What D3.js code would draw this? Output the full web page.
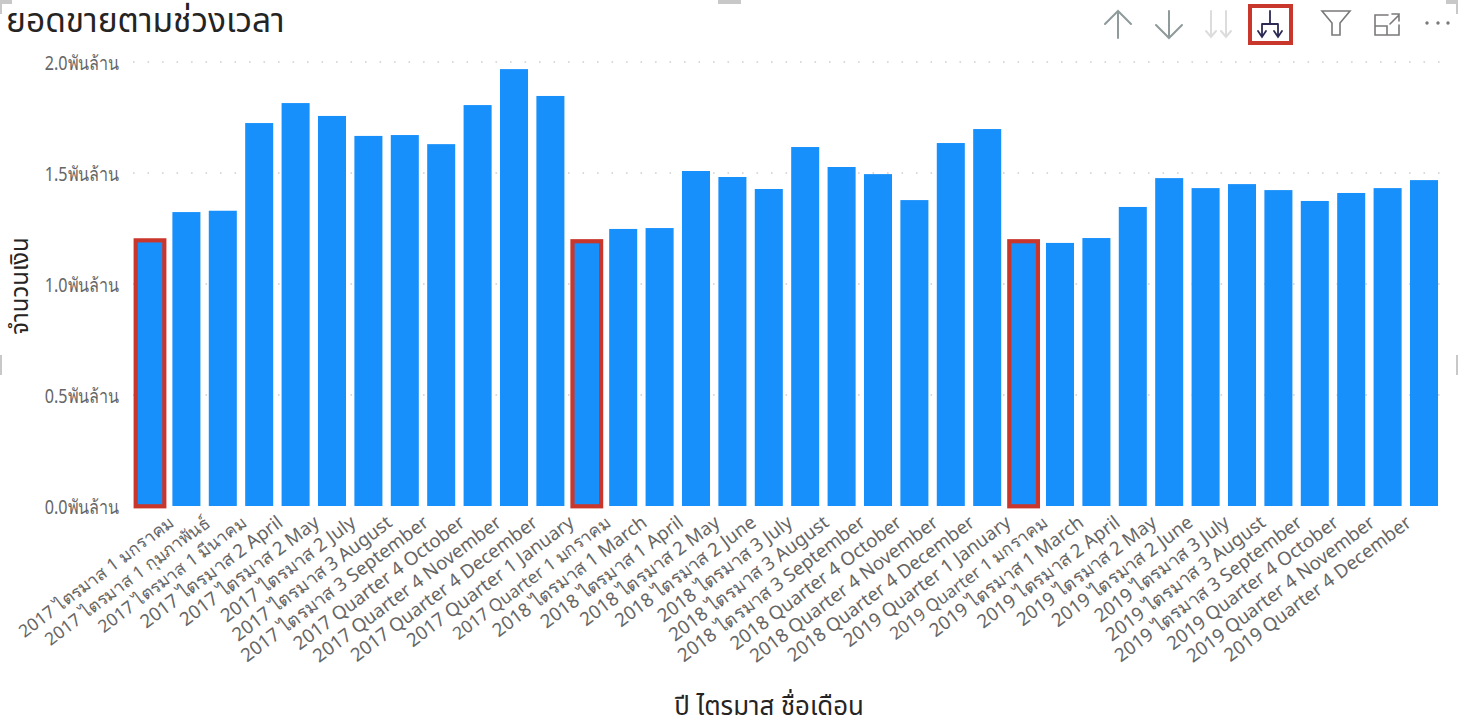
<!DOCTYPE html>
<html lang="th"><head><meta charset="UTF-8">
<title>ยอดขายตามช่วงเวลา</title>
<script src="https://d3js.org/d3.v7.min.js"></script>
<style>
html,body{margin:0;padding:0;background:#fff;overflow:hidden}
svg{display:block}
text{font-family:"Noto Sans","Noto Sans Thai","Liberation Sans",sans-serif}
</style>
</head>
<body>
<script>
// x labels, the last bar has no visible label in the picture
var categories = [
  "2017 ไตรมาส 1 มกราคม","2017 ไตรมาส 1 กุมภาพันธ์","2017 ไตรมาส 1 มีนาคม","2017 ไตรมาส 2 April",
  "2017 ไตรมาส 2 May","2017 ไตรมาส 2 July","2017 ไตรมาส 3 August","2017 ไตรมาส 3 September",
  "2017 Quarter 4 October","2017 Quarter 4 November","2017 Quarter 4 December","2017 Quarter 1 January",
  "2017 Quarter 1 มกราคม","2018 ไตรมาส 1 March","2018 ไตรมาส 1 April","2018 ไตรมาส 2 May",
  "2018 ไตรมาส 2 June","2018 ไตรมาส 3 July","2018 ไตรมาส 3 August","2018 ไตรมาส 3 September",
  "2018 Quarter 4 October","2018 Quarter 4 November","2018 Quarter 4 December","2019 Quarter 1 January",
  "2019 Quarter 1 มกราคม","2019 ไตรมาส 1 March","2019 ไตรมาส 2 April","2019 ไตรมาส 2 May",
  "2019 ไตรมาส 2 June","2019 ไตรมาส 3 July","2019 ไตรมาส 3 August","2019 ไตรมาส 3 September",
  "2019 Quarter 4 October","2019 Quarter 4 November","2019 Quarter 4 December",""
];
// พันล้าน
var values = [
  1.198,1.324,1.330,1.725,1.815,1.757,1.667,1.671,1.630,1.806,1.968,1.847,
  1.194,1.248,1.252,1.509,1.482,1.428,1.617,1.527,1.495,1.378,1.635,1.698,
  1.194,1.185,1.207,1.347,1.477,1.432,1.450,1.423,1.374,1.410,1.432,1.468
];
var highlighted = ["2017 ไตรมาส 1 มกราคม","2017 Quarter 1 มกราคม","2019 Quarter 1 มกราคม"];
var yTicks = [0,0.5,1.0,1.5,2.0];
var tickSuffix = "พันล้าน";
var chartTitle = "ยอดขายตามช่วงเวลา";
var yTitle = "จำนวนเงิน";
var xTitle = "ปี ไตรมาส ชื่อเดือน";

var w = 1458, h = 720;
var svg = d3.select("body").append("svg").attr("width", w).attr("height", h);

var x = d3.scaleBand().domain(categories).range([131.8,1442.2]).paddingInner(0.23).paddingOuter(0.115);
var y = d3.scaleLinear().domain([0,2]).range([506,62]);

// grid
svg.append("g").selectAll("line").data(yTicks.filter(function(d){return d>0;})).enter().append("line")
  .attr("x1",133).attr("x2",1450)
  .attr("y1",function(d){return y(d);}).attr("y2",function(d){return y(d);})
  .attr("stroke","#d0d0d0").attr("stroke-width",1.6).attr("stroke-dasharray","1.6 12.9");

// bars
svg.append("g").selectAll("rect").data(values).enter().append("rect")
  .attr("x",function(d,i){return x(categories[i]);})
  .attr("y",function(d){return y(d);})
  .attr("width",x.bandwidth())
  .attr("height",function(d){return y(0)-y(d);})
  .attr("fill","#1890fc");

// red outlines
svg.append("g").selectAll("rect").data(highlighted).enter().append("rect")
  .attr("x",function(c){return x(c)-0.3;})
  .attr("y",function(c){return y(values[categories.indexOf(c)])+0.3;})
  .attr("width",x.bandwidth()+0.6)
  .attr("height",function(c){return y(0)-y(values[categories.indexOf(c)]);})
  .attr("fill","none").attr("stroke","#c9372c").attr("stroke-width",4.2);

// y axis
var yAxis = d3.axisLeft(y).tickValues(yTicks).tickSize(0).tickPadding(0)
  .tickFormat(function(d){return d3.format(".1f")(d)+tickSuffix;});
var gy = svg.append("g").attr("transform","translate(119,1)").call(yAxis);
gy.select(".domain").remove();
gy.selectAll("text").attr("fill","#666").style("font-size","19.5px").style("font-family",'"Noto Sans",sans-serif')
  .attr("transform","scale(0.83,1)");

// x axis
var xAxis = d3.axisBottom(x).tickSize(0).tickPadding(0);
var gx = svg.append("g").attr("transform","translate(0,506)").call(xAxis);
gx.select(".domain").remove();
gx.selectAll("text")
  .attr("fill","#666").style("font-family",'"Noto Sans",sans-serif')
  // labels ending in a Thai month run shorter in the reference
  .style("font-size",function(d){return /[\u0E00-\u0E7F]$/.test(d) ? "17.4px" : "18.7px";})
  .attr("text-anchor","end").attr("dy",0).attr("y",0).attr("x",0)
  .attr("transform","translate(25,19) rotate(-37)");

// titles
svg.append("text").attr("x",6).attr("y",32).attr("fill","#252423").style("font-size","33.5px").text(chartTitle);
svg.append("text").attr("transform","translate(28,286) rotate(-90)").attr("text-anchor","middle")
  .attr("fill","#252423").style("font-size","24px").text(yTitle);
svg.append("text").attr("x",769).attr("y",715).attr("text-anchor","middle")
  .attr("fill","#252423").style("font-size","25.8px").text(xTitle);

// visual header icons
var icons = svg.append("g").attr("fill","none").attr("stroke-linecap","round");
icons.append("path").attr("d","M1118 38V11M1105 24L1118 11L1131 24").attr("stroke","#8f9a9a").attr("stroke-width",2);
icons.append("path").attr("d","M1169 11V38M1156 25L1169 38L1182 25").attr("stroke","#8f9a9a").attr("stroke-width",2);
icons.append("path").attr("d","M1211 11V37M1206 31L1211 37L1216 31M1226 11V37M1221 31L1226 37L1231 31").attr("stroke","#dcdcdc").attr("stroke-width",2);
icons.append("rect").attr("x",1250).attr("y",6).attr("width",41).attr("height",37).attr("stroke","#c9372c").attr("stroke-width",4);
icons.append("path").attr("d","M1270 11V24M1262 24H1278M1262 24V36M1278 24V36M1258 31L1262 37L1266 31M1274 31L1278 37L1282 31").attr("stroke","#2c2a55").attr("stroke-width",1.8);
icons.append("path").attr("d","M1322 11H1350L1340 23V35H1332V23Z").attr("stroke","#7b7878").attr("stroke-width",1.6);
icons.append("path").attr("d","M1388 15H1375V35H1399V25M1375 26H1387V35M1390 24L1399 15M1392 14H1399V21").attr("stroke","#7b7878").attr("stroke-width",1.6);
svg.append("g").attr("fill","#7b7878").selectAll("circle").data([1427,1438,1448]).enter().append("circle")
  .attr("cx",function(d){return d;}).attr("cy",23).attr("r",1.7);

// resize handles of the visual
svg.append("g").attr("fill","#c8c8c8").selectAll("rect")
  .data([[0,0,12,4],[0,0,2,14],[718,0,23,4],[1446,0,12,4],[1456,0,2,14],[1456,355,2,20],[0,355,2,20]])
  .enter().append("rect")
  .attr("x",function(d){return d[0];}).attr("y",function(d){return d[1];})
  .attr("width",function(d){return d[2];}).attr("height",function(d){return d[3];});
</script>
</body></html>
